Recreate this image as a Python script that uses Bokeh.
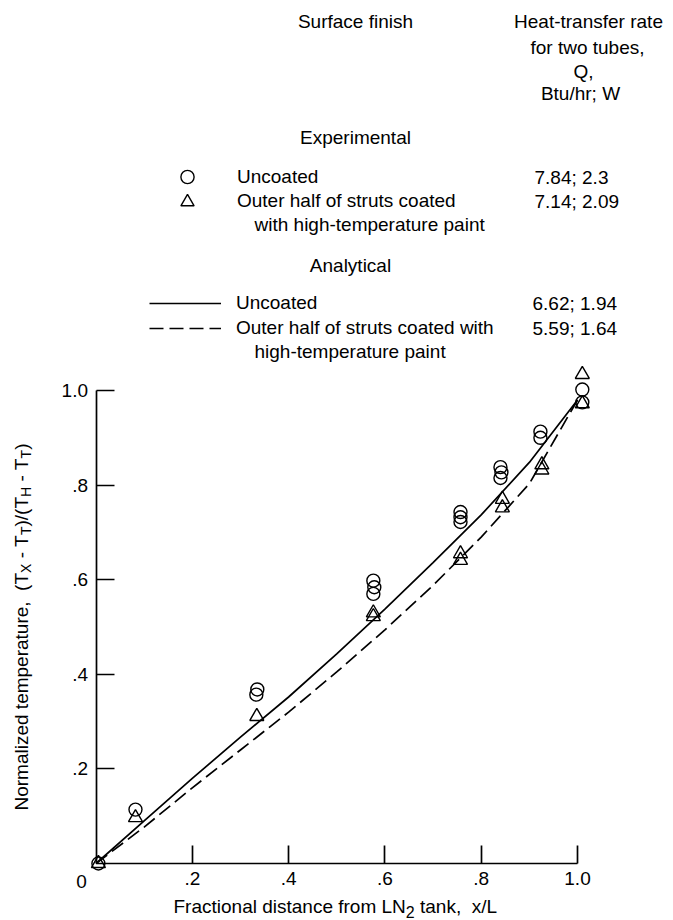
import math
from bokeh.plotting import figure
from bokeh.models import Range1d, FixedTicker, Label, Legend, LegendItem
from bokeh.embed import file_html
from bokeh.resources import INLINE

# ---------------- data ----------------
# Experimental, uncoated (circles)
X_CIRCLE = [0.005, 0.082, 0.335, 0.333, 0.576, 0.578, 0.576, 0.757, 0.757, 0.757,
            0.840, 0.842, 0.840, 0.923, 0.923, 1.010, 1.010]
Y_CIRCLE = [0.000, 0.114, 0.368, 0.357, 0.598, 0.584, 0.570, 0.743, 0.732, 0.722,
            0.838, 0.827, 0.815, 0.913, 0.900, 1.002, 0.975]
# Experimental, outer half of struts coated (triangles)
X_TRIANGLE = [0.005, 0.082, 0.334, 0.576, 0.576, 0.757, 0.757, 0.844, 0.844,
              0.926, 0.926, 1.010, 1.010]
Y_TRIANGLE = [0.000, 0.097, 0.311, 0.530, 0.522, 0.655, 0.641, 0.770, 0.752,
              0.843, 0.832, 1.034, 0.972]
# Analytical curves
X_CURVE = [0.0, 0.1, 0.2, 0.3, 0.4, 0.5, 0.6, 0.7, 0.8, 0.9, 1.0]
Y_UNCOATED = [0.0, 0.090, 0.180, 0.267, 0.352, 0.443, 0.538, 0.636, 0.737, 0.848, 0.980]
Y_COATED = [0.0, 0.077, 0.160, 0.240, 0.320, 0.405, 0.494, 0.588, 0.690, 0.803, 0.980]

X_TICKS = [0.2, 0.4, 0.6, 0.8, 1.0]
X_TICK_LABELS = [".2", ".4", ".6", ".8", "1.0"]
Y_TICKS = [0.2, 0.4, 0.6, 0.8, 1.0]
Y_TICK_LABELS = [".2", ".4", ".6", ".8", "1.0"]
ORIGIN_LABEL = "0"

HEADER_FINISH = "Surface finish"
HEADER_RATE = ["Heat-transfer rate", "for two tubes,", "Q,", "Btu/hr; W"]
GROUP_EXP = "Experimental"
GROUP_ANA = "Analytical"
EXP_LABELS = ["Uncoated", "Outer half of struts coated"]
EXP_CONT = "with high-temperature paint"
EXP_Q = ["7.84; 2.3", "7.14; 2.09"]
ANA_LABELS = ["Uncoated", "Outer half of struts coated with"]
ANA_CONT = "high-temperature paint"
ANA_Q = ["6.62; 1.94", "5.59; 1.64"]

X_TITLE = [("Fractional distance from LN", 0), ("2", 1), (" tank,", 0), ("  x/L", 0)]
Y_TITLE = [("Normalized temperature,", 0), ("  (T", 0), ("X", 1), (" - T", 0), ("T", 1),
           (")/(T", 0), ("H", 1), (" - T", 0), ("T", 1), (")", 0)]

# ---------------- layout (page pixels; the page has no margin) ----------------
FONT = "Liberation Sans"
FS = 19
FS_SUB = 14
FIG_W, FIG_H = 673, 920
X0_PX, X_PER = 95.5, 481.5      # page x of x=0, pixels per unit
Y0_PX, Y_PER = 863.0, 473.0     # page y of y=0, pixels per unit


def dx(px):
    return (px - X0_PX) / X_PER


def dy(py):
    return (Y0_PX - py) / Y_PER


# Arial / Liberation Sans advance widths (per 1000 em)
AW = {' ': 278, '(': 333, ')': 333, ',': 278, '-': 333, '.': 278, '/': 278, ';': 278,
      'A': 667, 'B': 667, 'C': 722, 'D': 722, 'E': 667, 'F': 611, 'G': 778, 'H': 722,
      'I': 278, 'L': 556, 'M': 833, 'N': 722, 'O': 778, 'Q': 778, 'T': 611, 'U': 722,
      'W': 944, 'X': 667, 'a': 556, 'b': 556, 'c': 500, 'd': 556, 'e': 556, 'f': 278,
      'g': 556, 'h': 556, 'i': 222, 'k': 500, 'l': 222, 'm': 833, 'n': 556, 'o': 556,
      'p': 556, 'r': 333, 's': 500, 't': 278, 'u': 556, 'w': 722, 'x': 500, 'z': 500}


def tw(s, size):
    return sum(AW.get(c, 556) for c in s) * size / 1000.0


p = figure(width=FIG_W, height=FIG_H,
           x_range=Range1d(dx(0), dx(FIG_W)),
           y_range=Range1d(dy(FIG_H), dy(0)),
           output_backend="svg", toolbar_location=None,
           min_border_left=0, min_border_right=0, min_border_top=0, min_border_bottom=0)
p.grid.visible = False
p.outline_line_color = None
p.background_fill_color = "white"
p.border_fill_color = "white"

for ax, ticks, labels, standoff in ((p.xaxis[0], X_TICKS, X_TICK_LABELS, 8),
                                    (p.yaxis[0], Y_TICKS, Y_TICK_LABELS, 8)):
    ax.fixed_location = 0
    ax.bounds = (0, 1.0)
    ax.ticker = FixedTicker(ticks=ticks)
    ax.major_label_overrides = {t: l for t, l in zip(ticks, labels)}
    ax.major_tick_in = 18
    ax.major_tick_out = 0
    ax.minor_tick_in = 0
    ax.minor_tick_out = 0
    ax.axis_line_width = 1.7
    ax.axis_line_color = "black"
    ax.major_tick_line_width = 1.7
    ax.major_tick_line_color = "black"
    ax.major_label_text_font = FONT
    ax.major_label_text_font_size = f"{FS}px"
    ax.major_label_text_color = "black"
    ax.major_label_standoff = standoff

# curves
r_solid = p.line(X_CURVE, Y_UNCOATED, line_color="black", line_width=1.7)
r_dash = p.line(X_CURVE, Y_COATED, line_color="black", line_width=1.7, line_dash="14 6")
# experimental points
r_circ = p.scatter(X_CIRCLE, Y_CIRCLE, marker="circle", size=13, fill_color=None,
                   line_color="black", line_width=1.4)
r_tri = p.scatter(X_TRIANGLE, Y_TRIANGLE, marker="triangle", size=14, fill_color=None,
                  line_color="black", line_width=1.4)


def lab(text, px, py, align="left", size=FS, baseline="middle", angle=0.0):
    p.add_layout(Label(x=dx(px), y=dy(py), text=text, text_align=align,
                       text_baseline=baseline, angle=angle, text_font=FONT,
                       text_font_size=f"{size}px", text_color="black"))


# headers
lab(HEADER_FINISH, 355, 21, "center")
for i, t in enumerate(HEADER_RATE):
    lab(t, [588, 587, 583, 580][i], [21, 47, 71, 93][i], "center")
lab(GROUP_EXP, 355, 137, "center")
lab(GROUP_ANA, 350, 265, "center")
lab(EXP_CONT, 254, 224)
lab(ANA_CONT, 254, 351)
for i, q in enumerate(EXP_Q):
    lab(q, 534, [176.5, 201][i])
for i, q in enumerate(ANA_Q):
    lab(q, 532, [303, 328][i])

# legends: one single-item legend per key (location = bottom-left, from frame bottom)
leg_common = dict(padding=0, margin=0, border_line_color=None, background_fill_alpha=0,
                  label_text_font=FONT, label_text_font_size=f"{FS}px",
                  label_text_color="black", glyph_width=72, spacing=0)
legend_specs = [
    (EXP_LABELS[0], r_circ, 151, 176.5, 33, 14),
    (EXP_LABELS[1], r_tri, 151, 201.0, 33, 14),
    (ANA_LABELS[0], r_solid, 149, 303.0, 24, 15),
    (ANA_LABELS[1], r_dash, 149, 328.0, 24, 15),
]
for text, rend, left_px, center_py, h, standoff in legend_specs:
    leg = Legend(items=[LegendItem(label=text, renderers=[rend])],
                 location=(left_px, FIG_H - (center_py + h / 2.0)),
                 glyph_height=h, label_height=h, label_standoff=standoff, **leg_common)
    p.add_layout(leg)

# origin label
lab(ORIGIN_LABEL, 81, 881, "center")

# x-axis title
cur = 173.0
for text, sub in X_TITLE:
    size = 16 if sub else FS
    lead = len(text) - len(text.lstrip())
    start = cur + tw(text[:lead], size)
    lab(text.strip(), start, 906 + (5 if sub else 0), "left", size, "alphabetic")
    cur += tw(text, size)

# y-axis title (rotated, reads bottom to top)
cur = 810.0
for text, sub in Y_TITLE:
    size = FS_SUB if sub else FS
    lead = len(text) - len(text.lstrip())
    start = cur - tw(text[:lead], size)
    lab(text.strip(), 21 + (4 if sub else 0), start, "left", size, "alphabetic", math.pi / 2)
    cur -= tw(text, size)

open("out.html", "w").write(file_html(p, INLINE))
